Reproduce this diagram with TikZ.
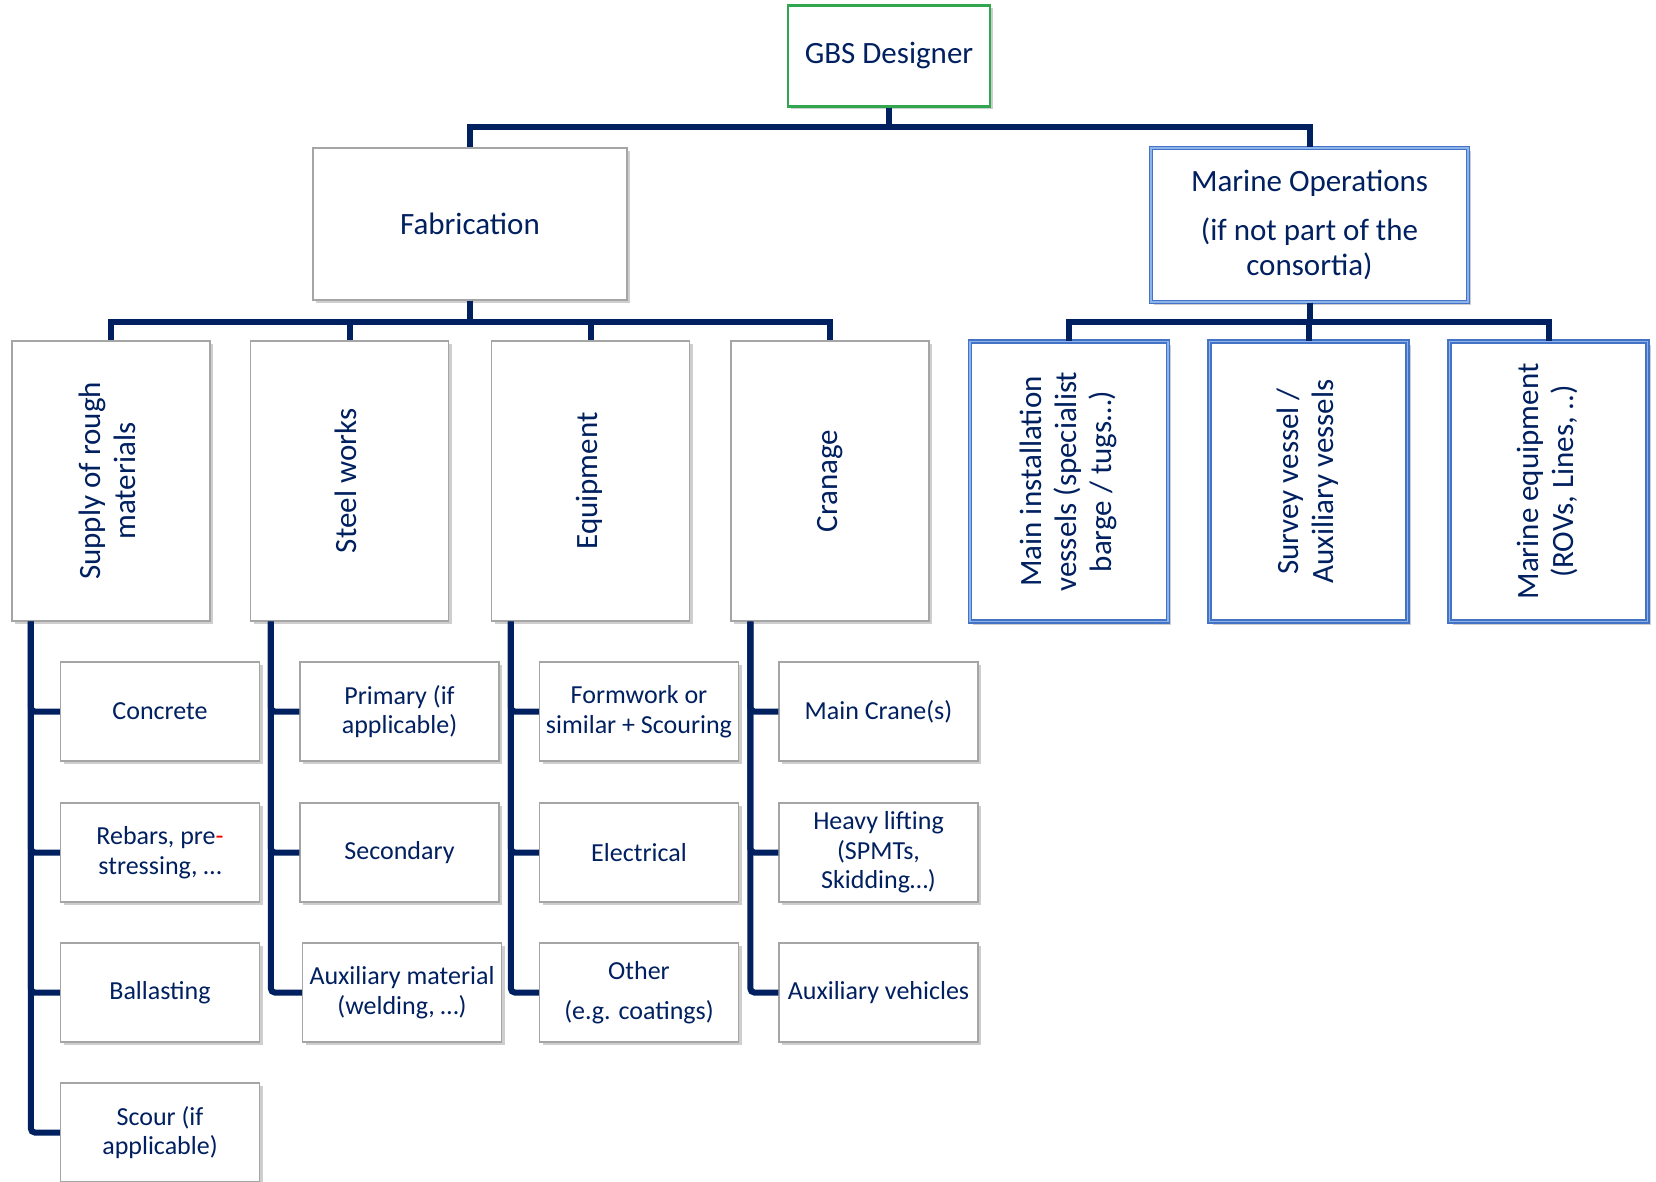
\documentclass[tikz,border=0pt]{standalone}
\usepackage{fontspec}
\setmainfont{Carlito}
\usetikzlibrary{shadows,calc}
\definecolor{navy}{RGB}{0,32,96}
\definecolor{boxgray}{RGB}{165,165,165}
\definecolor{mblue}{RGB}{68,114,196}
\definecolor{mlight}{RGB}{140,180,235}
\definecolor{ggreen}{RGB}{50,165,80}
\newcommand\fntA{\fontsize{31}{35}\selectfont}
\newcommand\fntB{\fontsize{26}{29.5}\selectfont}
\newcommand\vtext[1]{\rotatebox{90}{\begin{tabular}{@{}c@{}}#1\end{tabular}}}
\tikzset{
  base/.style={fill=white, text=navy, align=center, inner sep=0pt,
    drop shadow={shadow xshift=3pt, shadow yshift=-3pt, opacity=0.35, fill=black!55}},
  graybox/.style={base, draw=boxgray, line width=1.3pt},
  bluebox/.style={base, draw=mblue, double=mlight, double distance=1.3pt, line width=1.4pt},
  greenbox/.style={base, draw=ggreen, line width=2.5pt},
  conn/.style={draw=navy, line width=6pt},
  leafconn/.style={conn, rounded corners=4pt},
  leaf/.style={graybox, minimum width=199pt, minimum height=99pt, font=\fntB},
  lvl/.style={minimum width=198pt, minimum height=280pt, font=\fntA},
}
\begin{document}
\begin{tikzpicture}[x=1pt,y=-1pt]
\useasboundingbox (0,0) rectangle (1656,1182);

% top
\node[greenbox, minimum width=202pt, minimum height=101pt, font=\fntA] (gbs) at (889,56) {GBS Designer};

% level 1
\node[graybox, minimum width=314pt, minimum height=152pt, font=\fntA] (fab) at (470,224) {Fabrication};
\node[bluebox, minimum width=317pt, minimum height=154pt, font=\fntA] (mar) at (1309.5,225)
  {Marine Operations\\[14pt](if not part of the\\consortia)};

% level 2
\node[graybox, lvl] (sup) at (111,481) {\vtext{Supply of rough\\materials}};
\node[graybox, lvl] (stl) at (349.5,481) {\vtext{Steel works}};
\node[graybox, lvl] (eqp) at (590.5,481) {\vtext{Equipment}};
\node[graybox, lvl] (crn) at (830,481) {\vtext{Cranage}};
\node[bluebox, lvl] (miv) at (1069,481.5) {\vtext{Main installation\\vessels (specialist\\barge / tugs…)}};
\node[bluebox, lvl] (srv) at (1308.5,481.5) {\vtext{Survey vessel /\\Auxiliary vessels}};
\node[bluebox, lvl] (meq) at (1548.5,481.5) {\vtext{Marine equipment\\(ROVs, Lines, ..)}};

% leaves column 1
\node[leaf] (con) at (160,711.5) {Concrete};
\node[leaf] (reb) at (160,852.5) {Rebars, pre\textcolor{red}{-}\\stressing, …};
\node[leaf] (bal) at (160,992.5) {Ballasting};
\node[leaf] (sco) at (160,1132.5) {Scour (if\\applicable)};
% column 2
\node[leaf] (pri) at (399.5,711.5) {Primary (if\\applicable)};
\node[leaf] (sec) at (399.5,852.5) {Secondary};
\node[leaf] (aux) at (402,992.5) {Auxiliary material\\(welding, …)};
% column 3
\node[leaf] (frm) at (639,711.5) {Formwork or\\similar + Scouring};
\node[leaf] (ele) at (639,852.5) {Electrical};
\node[leaf] (oth) at (639,992.5) {Other\\[11pt](e.g. coatings)};
% column 4
\node[leaf] (mcr) at (878.5,711.5) {Main Crane(s)};
\node[leaf] (hvy) at (878.5,852.5) {Heavy lifting\\(SPMTs,\\Skidding…)};
\node[leaf] (auv) at (878.5,992.5) {Auxiliary vehicles};

% bus coordinates
\coordinate (busA) at (0,127.5);
\coordinate (busB) at (0,321.5);

% connectors top
\draw[conn] (gbs.south) |- (fab.north |- busA) -- (fab.north);
\draw[conn] (gbs.south) |- (mar.north |- busA) -- (mar.north);

% fabrication bus
\foreach \n in {sup,stl,eqp,crn}
  \draw[conn] (fab.south) |- (\n.north |- busB) -- (\n.north);
% marine bus
\foreach \n in {miv,srv,meq}
  \draw[conn] (mar.south) |- (\n.north |- busB) -- (\n.north);

% leaf connectors
\foreach \n in {con,reb,bal,sco}
  \draw[leafconn] ($(sup.south west)+(19.5,0)$) |- (\n.west);
\foreach \n in {pri,sec,aux}
  \draw[leafconn] ($(stl.south west)+(21,0)$) |- (\n.west);
\foreach \n in {frm,ele,oth}
  \draw[leafconn] ($(eqp.south west)+(20,0)$) |- (\n.west);
\foreach \n in {mcr,hvy,auv}
  \draw[leafconn] ($(crn.south west)+(20,0)$) |- (\n.west);
\end{tikzpicture}
\end{document}
